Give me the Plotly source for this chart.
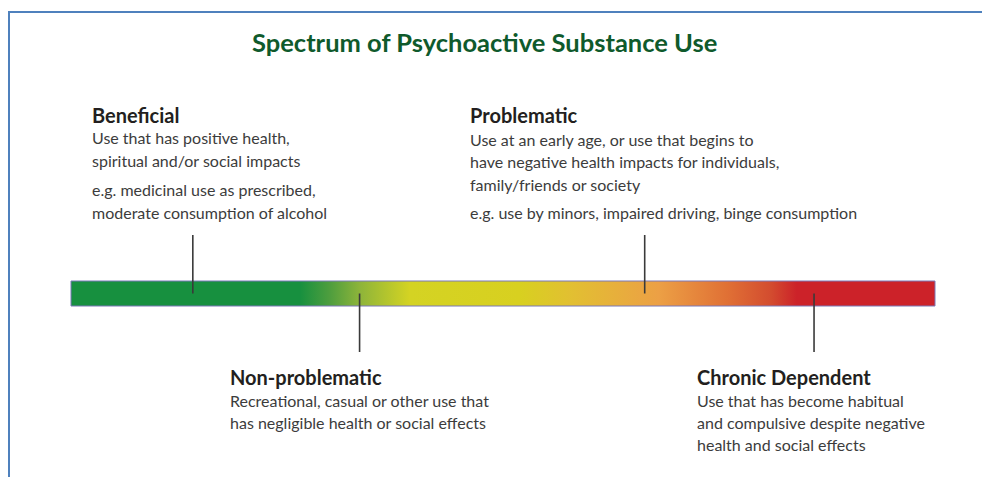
import plotly.graph_objects as go

# ---- data ----
title_text = "Spectrum of Psychoactive Substance Use"
spectrum_start = 0
spectrum_end = 100
stage_names = ["Beneficial", "Non-problematic", "Problematic", "Chronic Dependent"]
stage_positions = [14.1, 33.4, 66.4, 86.0]          # position along the spectrum (0-100)
stage_sides = ["above", "below", "above", "below"]
stage_lines = [
    ["Use that has positive health,", "spiritual and/or social impacts",
     "e.g. medicinal use as prescribed,", "moderate consumption of alcohol"],
    ["Recreational, casual or other use that", "has negligible health or social effects"],
    ["Use at an early age, or use that begins to", "have negative health impacts for individuals,",
     "family/friends or society", "e.g. use by minors, impaired driving, binge consumption"],
    ["Use that has become habitual", "and compulsive despite negative",
     "health and social effects"],
]
gradient_stops = [0, 0.265, 0.30, 0.334, 0.392, 0.52, 0.58, 0.68, 0.76, 0.81, 0.84, 1.0]
gradient_colors = ["#17903f", "#17903f", "#4f9e3e", "#8db43a", "#d4d323", "#d8d020",
                   "#e2bf32", "#eca045", "#e07035", "#d34c2f", "#cc2229", "#cc2229"]

# ---- layout helpers (pixels of a 982x477 canvas) ----
W, H = 982, 477
BAR_X0, BAR_X1 = 71, 935
BAR_Y_TOP, BAR_Y_BOT = 281, 306
px_per_unit_x = (BAR_X1 - BAR_X0) / (spectrum_end - spectrum_start)
px_per_unit_y = BAR_Y_BOT - BAR_Y_TOP
x_range = [spectrum_start - BAR_X0 / px_per_unit_x, spectrum_start + (W - BAR_X0) / px_per_unit_x]
y_range = [-(H - BAR_Y_BOT) / px_per_unit_y, BAR_Y_BOT / px_per_unit_y]

def px(x):
    return x / W

def py(y):
    return 1 - y / H

fig = go.Figure()

# gradient bar
fig.add_trace(go.Scatter(
    x=[spectrum_start, spectrum_end, spectrum_end, spectrum_start, spectrum_start],
    y=[0, 0, 1, 1, 0],
    mode="lines", fill="toself",
    fillgradient=dict(type="horizontal",
                      colorscale=[[s, c] for s, c in zip(gradient_stops, gradient_colors)]),
    line=dict(color="#7a78b8", width=1),
    hoverinfo="skip", showlegend=False,
))

# stage tick lines
for pos, side in zip(stage_positions, stage_sides):
    y_end = 2.84 if side == "above" else -1.84
    fig.add_trace(go.Scatter(
        x=[pos, pos], y=[0.5, y_end], mode="lines",
        line=dict(color="#3a3a3a", width=1.6),
        hoverinfo="skip", showlegend=False,
    ))

annotations = []
# title
annotations.append(dict(
    text=f"<b>{title_text}</b>", x=px(484), y=py(42), xref="paper", yref="paper",
    xanchor="center", yanchor="middle", showarrow=False,
    font=dict(family="Lato", size=25.5, color="#0f5a2c"),
))

text_x = [90, 228, 468, 695]
heading_y = [115, 377, 115, 377]
line_ys = [
    [137, 160, 189, 212],
    [400, 422],
    [139, 161, 184, 212],
    [400, 422, 444],
]
for name, lines, tx, hy, ys in zip(stage_names, stage_lines, text_x, heading_y, line_ys):
    annotations.append(dict(
        text=f"<b>{name}</b>", x=px(tx), y=py(hy), xref="paper", yref="paper",
        xanchor="left", yanchor="middle", showarrow=False,
        font=dict(family="Lato", size=20, color="#231f20"),
    ))
    for ln, ly in zip(lines, ys):
        annotations.append(dict(
            text=ln, x=px(tx), y=py(ly), xref="paper", yref="paper",
            xanchor="left", yanchor="middle", showarrow=False,
            font=dict(family="Lato", size=16, color="#3c3c3c"),
        ))

shapes = [
    dict(type="line", xref="paper", yref="paper", x0=px(8), x1=px(982), y0=py(12), y1=py(12),
         line=dict(color="#4f81bd", width=2)),
    dict(type="line", xref="paper", yref="paper", x0=px(9), x1=px(9), y0=py(12), y1=py(477),
         line=dict(color="#4f81bd", width=2)),
]

fig.update_layout(
    width=W, height=H,
    margin=dict(l=0, r=0, t=0, b=0),
    paper_bgcolor="white", plot_bgcolor="white",
    xaxis=dict(range=x_range, visible=False, fixedrange=True),
    yaxis=dict(range=y_range, visible=False, fixedrange=True),
    annotations=annotations, shapes=shapes,
    showlegend=False,
)

fig.write_html("out.html",
               config={"displayModeBar": False, "staticPlot": True},
               post_script="document.body.style.margin='0';document.body.style.overflow='hidden';")
